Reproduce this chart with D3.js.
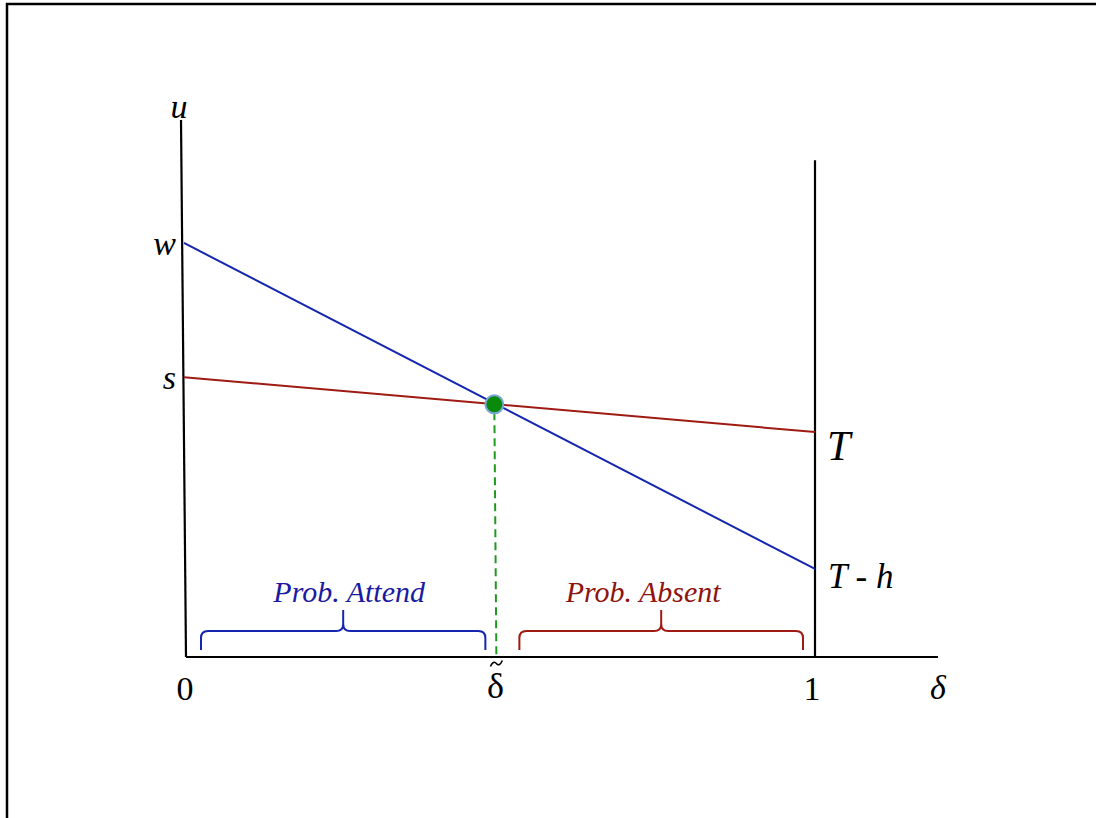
<!DOCTYPE html>
<html>
<head>
<meta charset="utf-8">
<script src="https://cdn.jsdelivr.net/npm/d3@7"></script>
<style>
  body { margin: 0; background: #fff; }
  text { font-family: "Liberation Serif", "DejaVu Serif", serif; }
</style>
</head>
<body>
<div id="chart"></div>
<script>
// utility of attending / being absent, at delta = 0 and delta = 1
var attendLine = [0.771, 0.164];   // w  ->  T - h
var absentLine = [0.521, 0.419];   // s  ->  T
var leftLabels = ["w", "s"];
var rightLabels = ["T - h", "T"];
var xTickLabels = ["0", "1"];
var braceLabels = ["Prob. Attend", "Prob. Absent"];

var width = 1096;
var height = 818;

var svg = d3.select("#chart").append("svg")
	.attr("width", width)
	.attr("height", height);

//frame round the slide
svg.append("rect")
	.attr("x", 7)
	.attr("y", 4)
	.attr("width", 1200)
	.attr("height", 1000)
	.attr("fill", "none")
	.attr("stroke", "#000")
	.attr("stroke-width", 2.5);

var x = d3.scaleLinear().domain([0, 1]).range([184, 815]);
var y = d3.scaleLinear().domain([0, 1]).range([657, 120]);

//crossing point of the two lines
var dTilde = (attendLine[0] - absentLine[0]) /
	((attendLine[0] - absentLine[0]) - (attendLine[1] - absentLine[1]));
var uTilde = attendLine[0] + (attendLine[1] - attendLine[0]) * dTilde;

//axes
svg.append("line")
	.attr("x1", x(0) - 3).attr("y1", y(1))
	.attr("x2", x(0) + 2).attr("y2", y(0))
	.attr("stroke", "#000").attr("stroke-width", 2.2);
svg.append("line")
	.attr("x1", x(0) + 2).attr("y1", y(0))
	.attr("x2", 938).attr("y2", y(0))
	.attr("stroke", "#000").attr("stroke-width", 2.2);
svg.append("line")
	.attr("x1", x(1)).attr("y1", y(0.925))
	.attr("x2", x(1)).attr("y2", y(0))
	.attr("stroke", "#000").attr("stroke-width", 2.2);

//the two utility lines
var line = d3.line()
	.x(function(d, i) { return x(i); })
	.y(function(d) { return y(d); });

svg.append("path")
	.datum(attendLine)
	.attr("d", line)
	.attr("fill", "none")
	.attr("stroke", "#1426b0")
	.attr("stroke-width", 2);

svg.append("path")
	.datum(absentLine)
	.attr("d", line)
	.attr("fill", "none")
	.attr("stroke", "#9e1a12")
	.attr("stroke-width", 2);

//dashed drop line
svg.append("line")
	.attr("x1", x(dTilde) - 2).attr("y1", y(uTilde) + 8)
	.attr("x2", x(dTilde)).attr("y2", y(0))
	.attr("stroke", "#1f9a1f")
	.attr("stroke-width", 2)
	.attr("stroke-dasharray", "8,5");

svg.append("circle")
	.attr("cx", x(dTilde) - 2)
	.attr("cy", y(uTilde))
	.attr("r", 9)
	.attr("fill", "#0a8a0a")
	.attr("stroke", "#7aa6d8")
	.attr("stroke-width", 2);

//braces
function bracePath(x0, x1)
{
	var xm = (x0 + x1) / 2;
	var yb = 650, yl = 631, yt = 610, r = 7;
	return "M" + x0 + "," + yb +
		"L" + x0 + "," + (yl + r) +
		"Q" + x0 + "," + yl + " " + (x0 + r) + "," + yl +
		"L" + (xm - r) + "," + yl +
		"Q" + xm + "," + yl + " " + xm + "," + (yl - r) +
		"L" + xm + "," + yt +
		"M" + xm + "," + (yl - r) +
		"Q" + xm + "," + yl + " " + (xm + r) + "," + yl +
		"L" + (x1 - r) + "," + yl +
		"Q" + x1 + "," + yl + " " + x1 + "," + (yl + r) +
		"L" + x1 + "," + yb;
}

var braces = [
	{ x0: x(0) + 17, x1: x(dTilde) - 11, color: "#1426b0", text: "#1a1aa0", dx: 6 },
	{ x0: x(dTilde) + 23, x1: x(1) - 12, color: "#9e1a12", text: "#8e1410", dx: -18 }
];

braces.forEach(function(b, i)
{
	svg.append("path")
		.attr("d", bracePath(b.x0, b.x1))
		.attr("fill", "none")
		.attr("stroke", b.color)
		.attr("stroke-width", 2);
	svg.append("text")
		.attr("x", (b.x0 + b.x1) / 2 + b.dx)
		.attr("y", 602)
		.attr("text-anchor", "middle")
		.attr("font-style", "italic")
		.attr("font-size", 30)
		.attr("fill", b.text)
		.text(braceLabels[i]);
});

//labels on the left axis
[attendLine[0], absentLine[0]].forEach(function(v, i)
{
	svg.append("text")
		.attr("x", x(0) - 8)
		.attr("y", y(v) + 12)
		.attr("text-anchor", "end")
		.attr("font-style", "italic")
		.attr("font-size", 34)
		.text(leftLabels[i]);
});

//labels on the right line
svg.append("text")
	.attr("x", x(1) + 13)
	.attr("y", y(attendLine[1]) + 19)
	.attr("font-style", "italic")
	.attr("font-size", 35)
	.text(rightLabels[0]);
svg.append("text")
	.attr("x", x(1) + 12)
	.attr("y", y(absentLine[1]) + 28)
	.attr("font-style", "italic")
	.attr("font-size", 42)
	.text(rightLabels[1]);

//x ticks
[0, 1].forEach(function(v, i)
{
	svg.append("text")
		.attr("x", x(v) + (i == 0 ? 1 : -3))
		.attr("y", 700)
		.attr("text-anchor", "middle")
		.attr("font-size", 34)
		.text(xTickLabels[i]);
});

//delta tilde: the letter, with its tilde drawn as a small curve
var tx = x(dTilde);
svg.append("text")
	.attr("x", tx - 1)
	.attr("y", 698)
	.attr("text-anchor", "middle")
	.attr("font-size", 36)
	.text("\u03B4");
svg.append("path")
	.attr("d", "M" + (tx - 6) + ",666.5 Q" + (tx - 3) + ",660 " + tx + ",663.5 T" + (tx + 6) + ",660.5")
	.attr("fill", "none")
	.attr("stroke", "#000")
	.attr("stroke-width", 1.6);

//axis names
svg.append("text")
	.attr("x", 938)
	.attr("y", 699)
	.attr("text-anchor", "middle")
	.attr("font-style", "italic")
	.attr("font-size", 34)
	.text("\u03B4");
svg.append("text")
	.attr("x", 179)
	.attr("y", 118)
	.attr("text-anchor", "middle")
	.attr("font-style", "italic")
	.attr("font-size", 34)
	.text("u");
</script>
</body>
</html>
